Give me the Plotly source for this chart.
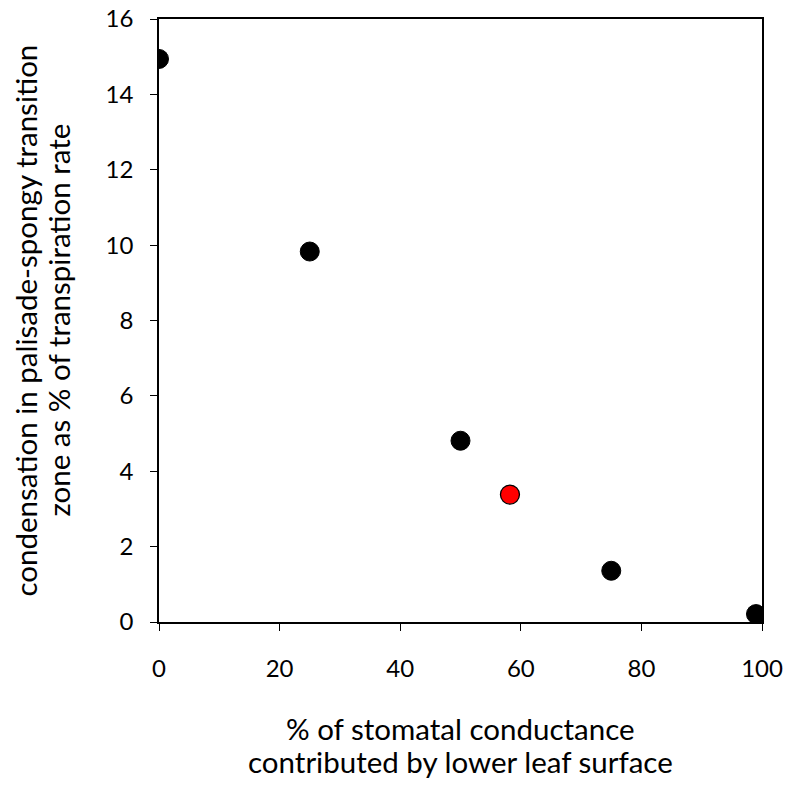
import plotly.graph_objects as go

x_black = [0, 25, 50, 75, 99]
y_black = [14.94, 9.83, 4.81, 1.36, 0.21]
x_red = [58.2]
y_red = [3.38]

x_ticks = [0, 20, 40, 60, 80, 100]
y_ticks = [0, 2, 4, 6, 8, 10, 12, 14, 16]

x_title_lines = ["% of stomatal conductance", "contributed by lower leaf surface"]
y_title_lines = ["condensation in palisade-spongy transition", "zone as % of transpiration rate"]

FONT = "Lato, Calibri, Carlito, sans-serif"
TITLE_SIZE = 29.5
TICK_SIZE = 24

fig = go.Figure()
fig.add_trace(go.Scatter(x=x_black, y=y_black, mode="markers",
                         marker=dict(size=19, color="black", line=dict(color="black", width=1)),
                         showlegend=False))
fig.add_trace(go.Scatter(x=x_red, y=y_red, mode="markers",
                         marker=dict(size=19, color="#ff0000", line=dict(color="black", width=1.3)),
                         showlegend=False))

annotations = []
for line, shift in zip(x_title_lines, [-106.0, -139.5]):
    annotations.append(dict(text=line, xref="paper", yref="paper", x=0.5, y=0,
                            xanchor="center", yanchor="middle", yshift=shift,
                            showarrow=False, font=dict(family=FONT, size=TITLE_SIZE, color="black")))
for line, shift in zip(y_title_lines, [-134.0, -101.0]):
    annotations.append(dict(text=line, xref="paper", yref="paper", x=0, y=0.5,
                            xanchor="center", yanchor="middle", xshift=shift, textangle=-90,
                            showarrow=False, font=dict(family=FONT, size=TITLE_SIZE, color="black")))

fig.update_layout(
    width=789, height=788,
    margin=dict(l=159, r=27, t=19, b=166),
    paper_bgcolor="white", plot_bgcolor="white",
    font=dict(family=FONT, size=TICK_SIZE, color="black"),
    xaxis=dict(range=[0, 100], tickvals=x_ticks, ticks="outside", ticklen=7, tickwidth=1,
               tickcolor="black", showline=True, linecolor="black", linewidth=1.5, mirror=True,
               showgrid=False, zeroline=False, ticklabelstandoff=17, automargin=False,
               ticklabeloverflow="allow"),
    yaxis=dict(range=[0, 16], tickvals=y_ticks, ticks="outside", ticklen=7, tickwidth=1,
               tickcolor="black", showline=True, linecolor="black", linewidth=1.5, mirror=True,
               showgrid=False, zeroline=False, ticklabelstandoff=12, automargin=False,
               ticklabeloverflow="allow"),
    annotations=annotations,
)

fig.write_html("out.html", config={"displayModeBar": False},
               post_script="document.body.style.margin='0px';")
